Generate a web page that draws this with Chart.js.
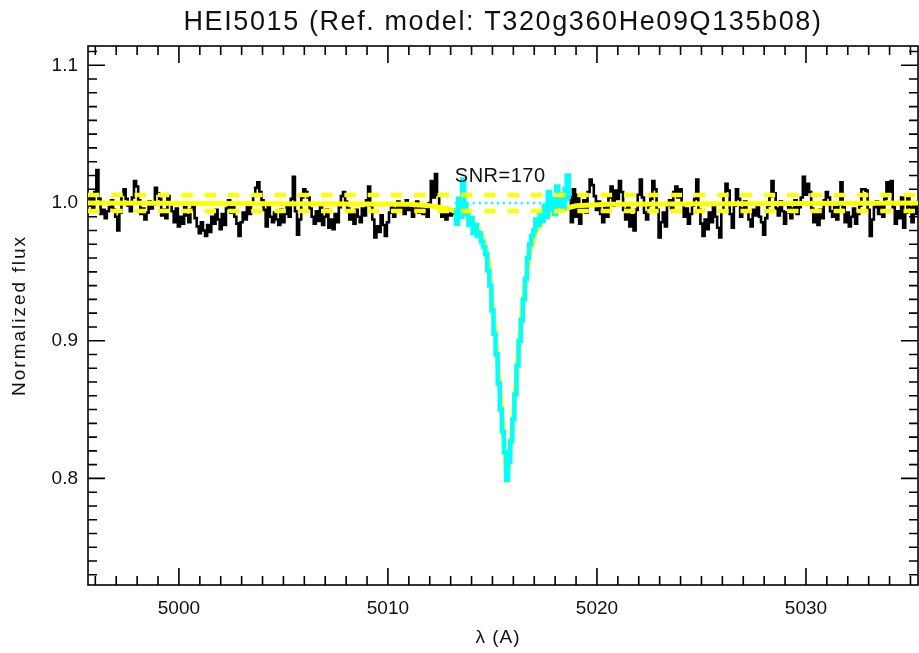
<!DOCTYPE html>
<html lang="en">
<head>
    <meta charset="UTF-8">
    <title>HEI5015 line fit</title>
    <script src="https://cdn.jsdelivr.net/npm/chart.js@4.4.1/dist/chart.umd.min.js"></script>
    <style>
        body { margin: 0; background: #ffffff; }
        #wrap { width: 919px; height: 653px; }
    </style>
</head>
<body>
    <div id="wrap"><canvas id="lineChart" width="919" height="653"></canvas></div>

    <script>
        // --- Data ---
        const titleText = 'HEI5015 (Ref. model: T320g360He09Q135b08)';
        const snr = 170;

        // observed spectrum, blue side of the line (black), 4995.7 .. 5013.2, step 0.1 A
        const blueStart = 4995.7;
        const fluxBlue = [
            0.998, 1.004, 0.996, 1.008, 1.024, 1.003, 0.992, 0.995, 0.989, 0.994,
            0.997, 1.002, 0.995, 0.990, 0.980, 0.993, 1.006, 1.010, 1.003, 0.998,
            0.994, 1.004, 1.016, 1.012, 1.002, 0.992, 0.996, 0.988, 0.993, 1.001,
            0.996, 0.999, 1.011, 1.007, 1.003, 0.991, 0.995, 0.989, 1.005, 1.000,
            0.994, 0.986, 0.996, 0.983, 0.990, 0.985, 0.997, 0.991, 0.986, 0.995,
            0.999, 0.989, 0.983, 0.978, 0.986, 0.980, 0.976, 0.984, 0.979, 0.990,
            0.985, 0.995, 0.988, 0.981, 0.992, 0.984, 0.996, 1.002, 0.993, 0.997,
            0.990, 0.985, 0.976, 0.986, 0.993, 0.988, 0.998, 0.992, 0.999, 1.006,
            1.011, 1.015, 1.008, 1.002, 0.995, 0.983, 0.997, 0.990, 0.986, 0.993,
            0.988, 0.984, 0.995, 0.986, 0.992, 0.998, 0.990, 1.003, 1.019, 0.994,
            0.977, 0.988, 1.004, 1.010, 1.008, 1.004, 0.996, 0.990, 0.985, 0.994,
            0.987, 0.997, 0.984, 0.990, 0.995, 0.982, 0.988, 0.981, 0.992, 0.986,
            0.997, 1.005, 1.008, 1.001, 0.996, 0.988, 0.993, 0.985, 0.995, 0.990,
            0.986, 0.996, 0.991, 1.002, 1.012, 0.998, 0.988, 0.975, 0.983, 0.979,
            0.991, 0.984, 0.976, 0.986, 0.993, 0.998, 0.990, 0.996, 1.001, 0.994,
            0.997, 0.992, 1.002, 0.995, 0.998, 0.990, 0.996, 1.001, 0.993, 0.997,
            0.992, 0.996, 0.990, 1.000, 1.016, 1.004, 1.021, 1.006, 0.996, 0.990,
            0.994, 0.988, 0.996, 0.991, 0.995, 0.992
        ];

        // observed spectrum across the He I line (cyan), 5013.2 .. 5018.7
        const lineStart = 5013.2;
        const fluxLine = [
            0.995, 0.985, 1.003, 0.990, 1.017, 0.998, 0.992, 0.984, 0.989, 0.978,
            0.984, 0.976, 0.978, 0.972, 0.968, 0.963, 0.951, 0.940, 0.922, 0.905,
            0.890, 0.869, 0.850, 0.834, 0.819, 0.799, 0.812, 0.827, 0.843, 0.861,
            0.882, 0.900, 0.915, 0.930, 0.945, 0.960, 0.970, 0.976, 0.980, 0.988,
            0.984, 0.993, 0.987, 0.998, 0.990, 1.008, 0.995, 1.003, 0.992, 1.012,
            0.998, 1.006, 0.996, 1.010, 1.020, 1.003
        ];

        // observed spectrum, red side of the line (black), 5018.7 .. 5035.4
        const redStart = 5018.7;
        const fluxRed = [
            1.004, 0.986, 1.010, 0.990, 1.006, 0.985, 0.996, 1.002, 0.993, 1.008,
            1.017, 1.013, 1.005, 0.995, 1.001, 0.992, 0.986, 0.997, 0.990, 1.004,
            1.012, 0.998, 1.009, 1.003, 1.016, 1.008, 0.995, 0.988, 0.997, 0.983,
            0.991, 0.980, 0.995, 1.006, 1.017, 1.004, 0.993, 0.988, 0.998, 1.003,
            1.016, 1.010, 0.995, 0.975, 0.986, 0.993, 0.983, 0.998, 1.002, 0.996,
            1.008, 1.012, 1.004, 1.010, 0.999, 0.990, 0.996, 0.985, 0.992, 0.998,
            1.003, 1.017, 0.995, 0.985, 0.976, 0.988, 0.981, 0.993, 0.986, 0.997,
            0.990, 0.982, 0.975, 0.994, 1.006, 1.014, 1.009, 0.992, 0.982, 0.998,
            1.010, 1.003, 0.990, 0.996, 1.001, 0.994, 0.988, 0.983, 0.995, 0.991,
            0.999, 0.990, 0.986, 0.977, 0.989, 0.998, 1.005, 1.016, 1.007, 0.996,
            0.991, 1.001, 0.994, 0.985, 0.993, 0.999, 0.989, 0.996, 1.002, 0.992,
            0.997, 1.004, 1.019, 1.006, 1.014, 1.008, 0.996, 0.986, 0.993, 0.984,
            0.995, 0.989, 1.002, 1.008, 1.004, 0.994, 0.990, 0.997, 0.988, 0.999,
            1.015, 0.997, 0.986, 0.993, 0.983, 0.990, 0.996, 0.985, 0.992, 0.998,
            1.010, 1.010, 1.009, 0.995, 0.976, 0.988, 0.997, 1.001, 0.992, 0.998,
            0.990, 1.003, 1.015, 1.006, 1.016, 0.997, 0.985, 0.994, 0.989, 1.004,
            0.982, 0.993, 1.005, 0.997, 0.986, 0.999, 0.992, 1.001
        ];

        // reference model profile (yellow)
        const modelLam = [4995.6, 5011.0, 5012.0, 5012.8, 5013.4, 5013.9, 5014.3, 5014.6, 5014.8,
            5015.0, 5015.2, 5015.4, 5015.6, 5015.7, 5015.8, 5016.0, 5016.2, 5016.4, 5016.6,
            5016.8, 5017.1, 5017.5, 5018.2, 5019.0, 5020.5, 5035.4];
        const modelFlux = [1.000, 0.999, 0.998, 0.996, 0.993, 0.989, 0.982, 0.972, 0.958,
            0.925, 0.893, 0.855, 0.818, 0.797, 0.812, 0.845, 0.884, 0.918, 0.945,
            0.966, 0.980, 0.989, 0.995, 0.998, 0.999, 1.000];

        const xTicks = [5000, 5010, 5020, 5030];
        const yTicks = [0.8, 0.9, 1.0, 1.1];
        const xRange = [4995.65, 5035.36];
        const yRange = [0.7226, 1.114];

        // --- build points ---
        function toPoints(start, values) {
            const base = Math.round(start * 10);
            return values.map((v, i) => ({ x: (base + i) / 10, y: v }));
        }
        const blueSide = toPoints(blueStart, fluxBlue);
        const redSide = toPoints(redStart, fluxRed);
        const lineObs = toPoints(lineStart, fluxLine);
        const model = modelLam.map((l, i) => ({ x: l, y: modelFlux[i] }));
        const upper = [{ x: xRange[0], y: 1 + 1 / snr }, { x: xRange[1], y: 1 + 1 / snr }];
        const lower = [{ x: xRange[0], y: 1 - 1 / snr }, { x: xRange[1], y: 1 - 1 / snr }];
        const contLine = [{ x: lineStart, y: 1 }, { x: lineObs[lineObs.length - 1].x, y: 1 }];

        const txtFont = '"Liberation Sans", "Helvetica", sans-serif';

        // axis box, inward ticks and free text
        const framePlugin = {
            id: 'frame',
            beforeDatasetsDraw(chart) {
                const { ctx, chartArea: a, scales: { x, y } } = chart;
                ctx.save();
                ctx.strokeStyle = '#000';
                ctx.lineWidth = 1.6;
                ctx.strokeRect(a.left, a.top, a.right - a.left, a.bottom - a.top);
                ctx.beginPath();
                for (let k = Math.ceil(x.min); k <= x.max; k++) {
                    const px = x.getPixelForValue(k);
                    const len = k % 10 === 0 ? 17 : 9;
                    ctx.moveTo(px, a.bottom); ctx.lineTo(px, a.bottom - len);
                    ctx.moveTo(px, a.top); ctx.lineTo(px, a.top + len);
                }
                for (let k = Math.ceil(y.min * 100); k <= y.max * 100; k++) {
                    const py = y.getPixelForValue(k / 100);
                    const len = k % 10 === 0 ? 17 : 9;
                    ctx.moveTo(a.left, py); ctx.lineTo(a.left + len, py);
                    ctx.moveTo(a.right, py); ctx.lineTo(a.right - len, py);
                }
                ctx.stroke();
                ctx.restore();
            },
            afterDraw(chart) {
                const { ctx, chartArea: a, scales: { x, y } } = chart;
                ctx.save();
                ctx.fillStyle = '#111';
                ctx.textAlign = 'center';
                ctx.textBaseline = 'alphabetic';

                ctx.font = '27px ' + txtFont;
                ctx.letterSpacing = '1.6px';
                ctx.fillText(titleText, (a.left + a.right) / 2, 30);

                ctx.font = '19px ' + txtFont;
                ctx.letterSpacing = '1px';
                ctx.textBaseline = 'middle';
                ctx.fillText('λ (A)', 498, 638);

                ctx.save();
                ctx.translate(20, (a.top + a.bottom) / 2);
                ctx.rotate(-Math.PI / 2);
                ctx.letterSpacing = '2px';
                ctx.fillText('Normalized flux', 0, 0);
                ctx.restore();

                ctx.font = '20px ' + txtFont;
                ctx.letterSpacing = '0.5px';
                ctx.textAlign = 'left';
                ctx.textBaseline = 'alphabetic';
                ctx.fillText('SNR=' + snr, x.getPixelForValue(lineStart), y.getPixelForValue(1.015));
                ctx.restore();
            }
        };

        const ctx = document.getElementById('lineChart').getContext('2d');
        new Chart(ctx, {
            type: 'line',
            data: {
                datasets: [
                    { data: blueSide, borderColor: '#000', borderWidth: 2.6, stepped: 'middle', order: 6 },
                    { data: redSide, borderColor: '#000', borderWidth: 2.6, stepped: 'middle', order: 6 },
                    { data: model, borderColor: '#ffff00', borderWidth: 5, order: 5 },
                    { data: contLine, borderColor: '#00ffff', borderWidth: 2.5, borderDash: [2, 4], order: 4 },
                    { data: lineObs, borderColor: '#00ffff', borderWidth: 4.5, stepped: 'middle', order: 3 },
                    { data: upper, borderColor: '#ffff00', borderWidth: 4.5, borderDash: [11.5, 11.8], order: 1 },
                    { data: lower, borderColor: '#ffff00', borderWidth: 4.5, borderDash: [11.5, 11.8], order: 1 }
                ]
            },
            options: {
                responsive: false,
                animation: false,
                events: [],
                layout: { padding: { top: 46, right: 1, left: 0, bottom: 0 } },
                elements: { point: { radius: 0 }, line: { tension: 0, fill: false } },
                plugins: { legend: { display: false }, tooltip: { enabled: false } },
                scales: {
                    x: {
                        type: 'linear',
                        min: xRange[0],
                        max: xRange[1],
                        grid: { display: false, drawTicks: false },
                        border: { display: false },
                        afterBuildTicks: s => { s.ticks = xTicks.map(v => ({ value: v })); },
                        afterFit: s => { s.height = 68; },
                        ticks: {
                            padding: 12,
                            color: '#111',
                            font: { family: txtFont, size: 19 },
                            callback: v => String(v)
                        }
                    },
                    y: {
                        type: 'linear',
                        min: yRange[0],
                        max: yRange[1],
                        grid: { display: false, drawTicks: false },
                        border: { display: false },
                        afterBuildTicks: s => { s.ticks = yTicks.map(v => ({ value: v })); },
                        afterFit: s => { s.width = 88; },
                        ticks: {
                            padding: 10,
                            color: '#111',
                            font: { family: txtFont, size: 19 },
                            callback: v => Number(v).toFixed(1)
                        }
                    }
                }
            },
            plugins: [framePlugin]
        });
    </script>
</body>
</html>
